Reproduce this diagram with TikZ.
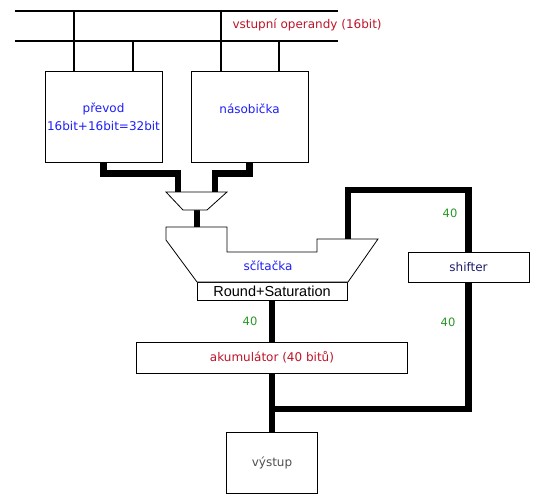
\documentclass[tikz,border=0pt]{standalone}
\usepackage{fontspec}
\usetikzlibrary{backgrounds}
\setmainfont{DejaVu Sans}
\newfontfamily\arialfont{Liberation Sans}
\definecolor{opred}{RGB}{190,20,40}
\definecolor{opblue}{RGB}{30,30,250}
\definecolor{opnavy}{RGB}{30,30,110}
\definecolor{opgreen}{RGB}{40,150,40}
\definecolor{opgrey}{RGB}{80,80,80}

\begin{document}
\begin{tikzpicture}[x=1pt, y=-1pt,
    box/.style={draw, fill=white, line width=0.8pt, inner sep=0pt, align=center, font=\fontsize{12}{18}\selectfont},
    wire/.style={line width=1.6pt},
    wide/.style={line width=6.5pt, line cap=rect},
    num/.style={text=opgreen, font=\fontsize{11.5}{14}\selectfont}]

    \useasboundingbox (0,0) rectangle (538,500);

    % Nodes
    \node (prevod) [box, text=opblue, minimum width=117pt, minimum height=91pt] at (103.5,116.5) {převod\\16bit+16bit=32bit};
    \node (nasob) [box, text=opblue, minimum width=117pt, minimum height=91pt, text depth=15pt] at (249.5,116.5) {násobička};
    \node (shifter) [box, text=opnavy, minimum width=121pt, minimum height=30pt] at (468.5,267) {shifter};
    \node (roundsat) [box, minimum width=150pt, minimum height=18pt, font=\arialfont\fontsize{14.5}{15}\selectfont] at (272,291) {Round+Saturation};
    \node (akum) [box, text=opred, minimum width=271pt, minimum height=31pt] at (272,357.5) {akumulátor (40 bitů)};
    \node (vystup) [box, text=opgrey, minimum width=91pt, minimum height=61pt] at (272,462.5) {výstup};

    \coordinate (busAl) at (15,11);
    \coordinate (busAr) at (338,11);
    \coordinate (busBl) at (15,41);
    \coordinate (busBr) at (338,41);
    \coordinate (tapA) at (74,11);
    \coordinate (tapB) at (133,41);
    \coordinate (tapC) at (221,11);
    \coordinate (tapD) at (279,41);
    \coordinate (muxinL) at (178,192);
    \coordinate (muxinR) at (215,192);
    \coordinate (muxout) at (197,210);
    \coordinate (addinL) at (197,227);
    \coordinate (addinR) at (348,239);
    \coordinate (join) at (272,409);

    \node (ops) [text=opred, anchor=west, font=\fontsize{12}{14}\selectfont] at (229,25) {vstupní operandy (16bit)};

    % Mux and adder
    \draw[fill=white, line width=0.8pt] (166,192) -- (227,192) -- (207,210) -- (183,210) -- cycle;
    \draw[fill=white, line width=0.8pt] (166,227) -- (227,227) -- (227,252) -- (317,252) -- (317,239)
        -- (378,239) -- (348,282) -- (197,282) -- (166,240) -- cycle;
    \node (adder) [text=opblue, font=\fontsize{12}{14}\selectfont] at (268,266) {sčítačka};

    % Widths
    \node (w1) [num] at (450,213) {40};
    \node (w2) [num] at (448,322) {40};
    \node (w3) [num] at (250,321) {40};

    \begin{pgfonlayer}{background}
    % Bus
    \draw[wire] (busAl) -- (busAr);
    \draw[wire] (busBl) -- (busBr);
    \draw[wire] (tapA) -- (tapA |- prevod.north);
    \draw[wire] (tapB) -- (tapB |- prevod.north);
    \draw[wire] (tapC) -- (tapC |- nasob.north);
    \draw[wire] (tapD) -- (tapD |- nasob.north);

    % Wide wires
    \draw[wide] (prevod.south) -- ++(0,11) -| (muxinL);
    \draw[wide] (nasob.south) -- ++(0,11) -| (muxinR);
    \draw[wide] (muxout) -- (addinL);
    \draw[wide] (addinR) -- ++(0,-49) -| (shifter.north);
    \draw[wide] (shifter.south) |- (join);
    \draw[wide] (roundsat.south) -- (akum.north);
    \draw[wide] (akum.south) -- (vystup.north);
    \end{pgfonlayer}

\end{tikzpicture}
\end{document}
